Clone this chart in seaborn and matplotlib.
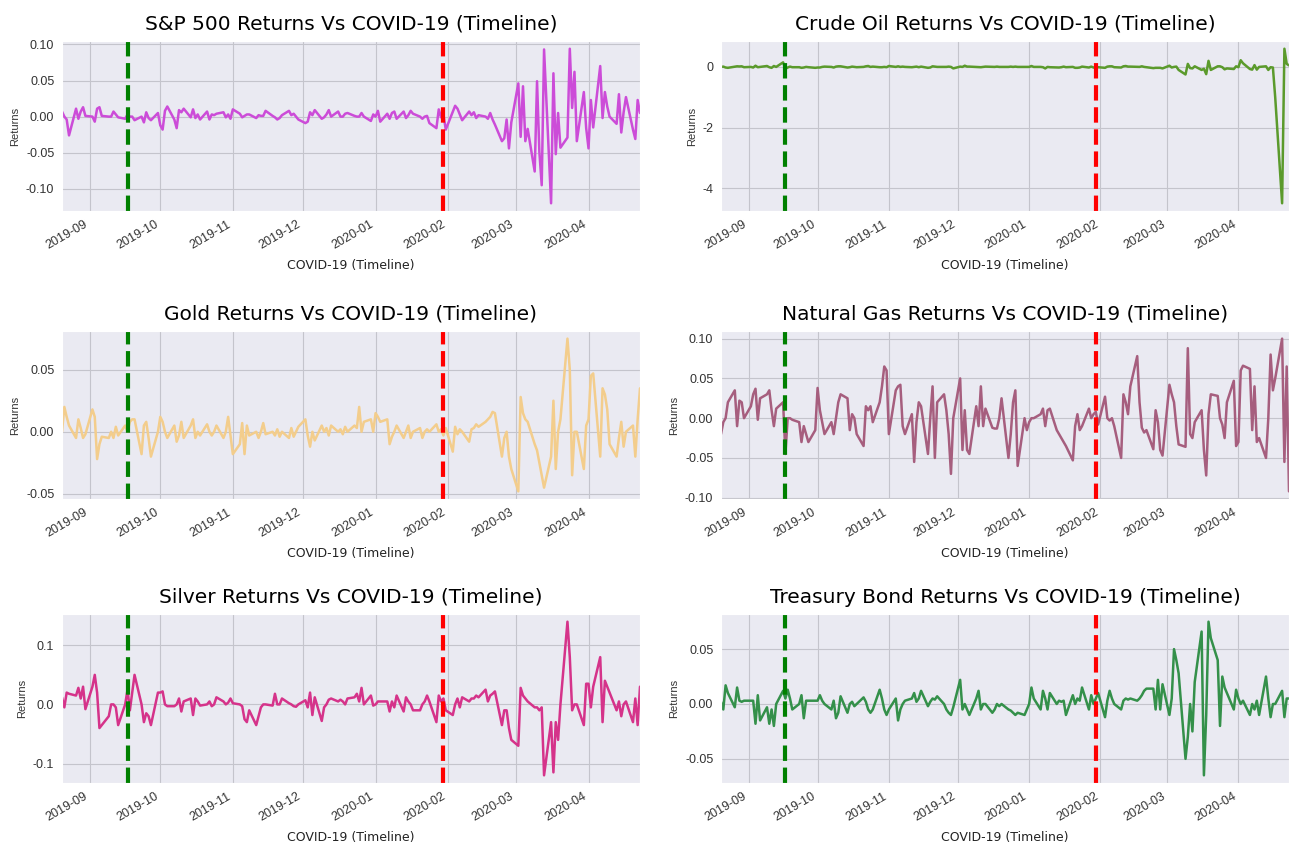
"""
Asset returns vs COVID-19 timeline: six small line charts in a 3x2 grid.
"""

import matplotlib
matplotlib.use("Agg")
import matplotlib.pyplot as plt
import matplotlib.dates as mdates
from matplotlib.ticker import MultipleLocator, FormatStrFormatter
import pandas as pd
import seaborn as sns

# trading days shown on the x axis
START_DATE = "2019-08-20"
END_DATE = "2020-04-23"
# event markers (green / red dashed lines)
EVENT_GREEN = "2019-09-17"
EVENT_RED = "2020-01-30"

# daily returns, one row per month (Aug-19 ... Apr-20)
sp500 = (
    [0.007, 0.0, -0.004, -0.026, 0.011, -0.003, 0.007, 0.013, 0.001]
    + [0.0, -0.007, 0.011, 0.013, 0.001, 0.0, 0.0, 0.007, 0.003, -0.001, -0.003, 0.003, 0.0, 0.0, -0.005, 0.0, -0.008, 0.006, -0.002, -0.005, 0.005]
    + [-0.012, -0.018, 0.008, 0.014, -0.004, -0.016, 0.009, 0.006, 0.011, -0.001, 0.010, -0.002, 0.003, -0.004, 0.007, -0.004, 0.003, 0.002, 0.004, 0.006, -0.001, 0.003, -0.003]
    + [0.010, 0.004, -0.001, 0.001, 0.003, 0.003, -0.002, 0.002, 0.001, 0.001, 0.008, 0.001, -0.001, -0.004, -0.002, 0.002, 0.008, 0.002, 0.004, 0.0, -0.004]
    + [-0.009, -0.007, 0.006, 0.002, 0.009, -0.003, -0.001, 0.003, 0.009, 0.0, 0.007, 0.0, 0.0, 0.004, 0.005, 0.001, 0.0, 0.0, 0.005, 0.0, -0.006, 0.003]
    + [0.0, 0.008, -0.007, 0.004, -0.003, 0.005, 0.007, -0.003, 0.007, -0.002, 0.002, 0.008, 0.004, 0.0, -0.003, 0.0, 0.001, -0.009, -0.016, 0.010, -0.001, 0.003, -0.018]
    + [0.007, 0.015, 0.011, 0.003, -0.005, 0.007, 0.002, 0.006, -0.002, 0.002, 0.0, -0.003, 0.005, -0.004, -0.011, -0.034, -0.030, -0.004, -0.044, -0.008]
    + [0.046, -0.028, 0.042, -0.034, -0.017, -0.076, 0.049, -0.049, -0.095, 0.093, -0.120, 0.060, -0.052, 0.005, -0.043, -0.029, 0.094, 0.012, 0.062, -0.034, 0.034, -0.016]
    + [-0.044, 0.023, -0.015, 0.070, -0.002, 0.034, 0.014, 0.0, -0.010, 0.031, -0.022, 0.006, 0.027, -0.018, -0.031, 0.023, 0.005]
)

crude_oil = (
    [0.0, 0.01, -0.02, -0.03, 0.01, 0.02, 0.015, 0.02, -0.01]
    + [0.0, -0.02, 0.04, -0.01, 0.0, 0.03, -0.01, -0.03, 0.03, 0.0, 0.15, -0.06, -0.02, 0.01, -0.01, -0.01, -0.03, -0.02, 0.0, -0.01, -0.03]
    + [-0.02, -0.02, 0.0, 0.01, 0.0, -0.02, 0.01, 0.02, 0.02, -0.02, -0.01, 0.01, 0.0, -0.01, 0.0, 0.02, 0.03, 0.0, 0.01, -0.01, -0.01, 0.0, -0.01]
    + [0.03, 0.0, 0.02, 0.0, 0.01, 0.0, -0.01, 0.0, 0.01, -0.01, 0.01, -0.03, -0.02, 0.02, 0.01, 0.0, 0.0, 0.0, 0.01, 0.0, -0.05]
    + [0.01, 0.0, 0.04, 0.01, 0.01, 0.0, 0.0, -0.01, 0.0, 0.01, 0.0, 0.0, 0.01, 0.0, 0.0, 0.0, 0.01, 0.0, 0.01, 0.0, 0.0, 0.0]
    + [0.0, 0.03, 0.0, 0.0, -0.01, -0.05, 0.0, -0.01, -0.02, -0.02, -0.01, 0.01, -0.01, 0.0, -0.03, -0.03, -0.02, 0.01, -0.02, 0.01, -0.02, -0.03, -0.01]
    + [-0.03, 0.01, 0.02, 0.02, -0.01, -0.02, 0.02, 0.03, 0.01, 0.01, 0.0, 0.0, 0.02, 0.0, -0.01, -0.04, -0.03, -0.03, -0.03, -0.05]
    + [0.04, -0.02, 0.0, 0.01, -0.1, -0.25, 0.1, -0.04, -0.05, 0.02, -0.1, -0.06, -0.24, 0.2, -0.1, 0.02, 0.02, -0.01, -0.08, -0.05, -0.07, 0.02]
    + [-0.01, 0.22, 0.12, -0.07, -0.09, 0.06, -0.09, 0.0, 0.02, -0.1, -0.01, -0.02, -1.0, -4.5, 0.6, 0.1, 0.05]
)

gold = (
    [0.0, 0.02, 0.012, 0.005, -0.005, 0.01, 0.003, -0.005, -0.002]
    + [0.018, 0.012, -0.022, -0.01, -0.004, -0.005, 0.0, -0.005, 0.004, -0.003, 0.005, 0.0, 0.008, 0.01, 0.01, -0.018, 0.005, 0.008, -0.005, -0.02, 0.0]
    + [0.012, 0.008, 0.0, -0.005, 0.005, -0.008, -0.003, 0.008, -0.005, 0.005, 0.01, -0.005, 0.0, -0.003, 0.006, 0.0, -0.003, 0.0, 0.005, -0.005, 0.0, 0.012, -0.003]
    + [-0.018, -0.01, 0.007, -0.018, 0.005, -0.003, 0.0, -0.005, 0.0, 0.007, -0.002, 0.0, -0.003, 0.002, -0.004, 0.0, -0.005, 0.003, -0.004, 0.0, 0.004]
    + [0.01, -0.003, -0.012, 0.0, -0.007, 0.005, 0.0, 0.003, -0.003, 0.005, 0.0, 0.002, -0.002, 0.004, 0.0, 0.005, 0.003, 0.02, 0.0, 0.008, 0.01, 0.0]
    + [0.015, 0.012, 0.008, 0.01, -0.01, -0.004, 0.0, 0.005, -0.005, 0.0, 0.005, -0.005, 0.0, 0.003, -0.005, 0.0, 0.002, 0.0, 0.006, 0.0, 0.002, -0.003, 0.003]
    + [-0.016, 0.004, -0.002, 0.002, 0.0, -0.008, 0.002, 0.003, 0.006, 0.004, 0.008, 0.01, 0.012, 0.016, 0.015, -0.02, -0.005, 0.0, -0.02, -0.03]
    + [-0.048, 0.028, 0.015, 0.01, 0.008, -0.01, -0.015, -0.025, -0.035, -0.045, -0.02, 0.025, -0.03, 0.0, 0.01, 0.075, 0.05, -0.035, 0.0, 0.0, -0.03, 0.005]
    + [0.01, 0.045, 0.047, -0.02, 0.035, 0.03, 0.018, -0.01, -0.02, -0.005, 0.008, -0.012, 0.0, 0.005, -0.02, 0.01, 0.035]
)

natural_gas = (
    [-0.02, -0.005, 0.0, 0.02, 0.035, -0.01, 0.022, 0.02, 0.0]
    + [0.015, 0.03, 0.037, -0.002, 0.025, 0.03, 0.035, 0.01, -0.01, 0.012, 0.02, -0.045, 0.0, 0.0, -0.002, -0.005, -0.03, -0.01, -0.02, -0.03, -0.015]
    + [0.038, 0.01, -0.005, -0.02, -0.005, -0.02, 0.0, 0.02, 0.03, 0.025, -0.015, 0.005, 0.0, -0.02, -0.035, 0.015, 0.01, 0.015, -0.005, 0.02, 0.04, 0.065, 0.06]
    + [-0.02, 0.035, 0.04, 0.042, -0.01, -0.02, 0.005, -0.055, -0.005, 0.02, 0.015, -0.045, 0.0, 0.04, -0.05, 0.02, 0.03, 0.01, -0.02, -0.07, 0.0]
    + [0.05, -0.04, 0.01, -0.04, -0.045, 0.015, -0.01, 0.04, -0.01, 0.012, -0.012, -0.013, -0.013, 0.0, 0.025, -0.05, -0.02, 0.02, 0.035, -0.06, 0.0, -0.015]
    + [-0.005, 0.0, 0.0, 0.005, 0.012, -0.01, 0.01, 0.012, -0.015, -0.02, -0.025, -0.03, -0.035, -0.053, -0.01, 0.005, -0.015, -0.01, 0.012, 0.0, 0.005, 0.008, -0.008]
    + [0.027, 0.0, -0.003, 0.0, -0.01, -0.05, 0.03, 0.02, 0.005, 0.04, 0.078, 0.02, -0.012, -0.018, -0.015, -0.039, 0.01, -0.005, -0.04, -0.047]
    + [0.042, 0.03, 0.02, -0.01, -0.033, -0.036, 0.088, -0.02, -0.025, -0.005, 0.01, -0.04, -0.072, 0.005, 0.03, 0.028, 0.0, -0.008, -0.025, 0.02, 0.047, -0.035]
    + [-0.03, 0.06, 0.066, 0.062, -0.015, 0.04, -0.03, -0.025, -0.05, 0.0, 0.08, 0.035, 0.05, 0.10, -0.055, 0.065, -0.092]
)

silver = (
    [0.012, -0.005, 0.02, 0.018, 0.015, 0.028, 0.01, 0.03, -0.008]
    + [0.03, 0.05, 0.02, -0.04, -0.035, -0.02, 0.0, 0.0, -0.005, -0.035, 0.0, 0.025, -0.01, 0.02, 0.05, 0.0, -0.03, -0.015, -0.02, -0.035, 0.02]
    + [0.02, 0.022, 0.0, -0.003, -0.003, 0.0, 0.01, -0.012, 0.005, 0.01, -0.018, 0.01, 0.005, -0.002, 0.0, 0.005, -0.003, 0.0, 0.012, 0.005, 0.0, 0.003, 0.01]
    + [0.002, 0.0, -0.003, -0.025, -0.03, -0.01, -0.035, -0.02, -0.005, 0.0, 0.0, -0.002, 0.018, 0.0, 0.0, 0.01, 0.002, 0.0, -0.003, -0.004, 0.0]
    + [0.007, -0.005, 0.02, -0.018, 0.012, -0.028, -0.005, 0.0, 0.008, 0.01, 0.005, 0.008, 0.005, 0.0, 0.01, 0.012, 0.018, 0.005, 0.028, 0.0, 0.015, -0.002]
    + [0.0, 0.005, 0.005, 0.005, -0.012, 0.005, -0.005, 0.015, -0.012, 0.012, 0.005, 0.0, -0.01, -0.01, 0.0, 0.005, 0.015, 0.005, -0.03, 0.015, 0.005, 0.01, -0.01]
    + [-0.018, 0.0, 0.01, -0.005, 0.012, 0.005, 0.01, 0.01, 0.015, 0.012, 0.025, 0.005, 0.015, 0.018, 0.022, -0.035, -0.01, -0.01, -0.04, -0.06]
    + [-0.07, 0.028, 0.015, 0.01, 0.005, -0.005, -0.005, -0.01, -0.005, -0.12, -0.03, -0.115, -0.03, -0.06, 0.0, 0.14, 0.08, -0.01, 0.0, 0.0, -0.035, 0.035]
    + [0.035, -0.005, 0.03, 0.08, -0.03, 0.04, 0.03, 0.02, -0.01, 0.005, -0.02, 0.0, 0.005, -0.03, 0.01, -0.035, 0.03]
)

treasury_bond = (
    [0.002, -0.005, 0.017, 0.01, -0.003, 0.015, 0.003, 0.002, 0.003]
    + [0.003, 0.003, -0.018, 0.008, -0.015, -0.003, -0.018, -0.005, -0.02, 0.0, 0.012, 0.005, 0.013, 0.005, -0.005, 0.0, 0.008, -0.013, 0.003, 0.003, 0.003]
    + [0.003, 0.008, 0.003, 0.0, -0.005, 0.003, -0.013, -0.008, 0.007, -0.008, 0.0, 0.002, -0.002, 0.0, 0.006, 0.002, -0.005, -0.008, -0.005, 0.013, 0.005, -0.005, -0.01]
    + [-0.005, 0.005, -0.015, -0.005, 0.0, 0.003, 0.005, 0.01, 0.002, 0.005, 0.012, -0.002, 0.002, 0.005, 0.004, 0.007, 0.0, -0.005, -0.008, -0.01, -0.003]
    + [0.022, -0.005, 0.0, -0.005, -0.01, 0.005, 0.012, -0.005, 0.0, 0.0, -0.008, -0.005, 0.0, -0.002, 0.0, -0.005, -0.006, -0.008, -0.01, -0.008, -0.01, -0.005]
    + [0.0, 0.015, 0.005, -0.005, 0.012, 0.005, -0.005, 0.01, 0.0, 0.003, 0.002, 0.003, -0.01, 0.008, 0.0, 0.005, 0.003, 0.015, -0.005, 0.008, 0.0, 0.005, 0.01]
    + [-0.012, 0.003, 0.012, 0.005, 0.0, -0.005, 0.003, 0.005, 0.004, 0.005, 0.003, 0.005, 0.008, 0.012, 0.014, 0.014, -0.005, 0.022, -0.005, 0.018]
    + [-0.01, 0.005, 0.05, 0.04, 0.028, -0.05, -0.03, 0.0, -0.025, 0.02, 0.066, -0.065, -0.01, 0.075, 0.06, 0.04, -0.02, 0.025, 0.015, 0.01, -0.005, 0.013]
    + [0.005, 0.0, 0.003, -0.01, 0.0, -0.005, 0.003, -0.01, 0.025, 0.005, -0.012, 0.0, 0.0, 0.012, -0.012, 0.005, 0.005]
)

titles = [
    "S&P 500 Returns Vs COVID-19 (Timeline)",
    "Crude Oil Returns Vs COVID-19 (Timeline)",
    "Gold Returns Vs COVID-19 (Timeline)",
    "Natural Gas Returns Vs COVID-19 (Timeline)",
    "Silver Returns Vs COVID-19 (Timeline)",
    "Treasury Bond Returns Vs COVID-19 (Timeline)",
]
series = [sp500, crude_oil, gold, natural_gas, silver, treasury_bond]
colors = ["#cc4cd8", "#5b9a2c", "#f3cd8c", "#a65e7e", "#d5338a", "#34904a"]
y_steps = [0.05, 2, 0.05, 0.05, 0.1, 0.05]
y_formats = ["%.2f", "%d", "%.2f", "%.2f", "%.1f", "%.2f"]

# axes boxes in figure pixels: (left, top, width, height)
FIG_W, FIG_H = 1289, 851
boxes = [
    (62, 41, 578, 170), (721, 41, 568, 170),
    (62, 331, 578, 168), (721, 331, 568, 168),
    (62, 614, 578, 169), (721, 614, 568, 169),
]


def main():
    sns.set_style("darkgrid", {"axes.facecolor": "#eaeaf2", "grid.color": "#c4c4cc"})
    plt.rcParams["axes.unicode_minus"] = False

    dates = pd.bdate_range(START_DATE, END_DATE)
    fig = plt.figure(figsize=(FIG_W / 100, FIG_H / 100), dpi=100)

    for i, (title, values) in enumerate(zip(titles, series)):
        left, top, w, h = boxes[i]
        ax = fig.add_axes([left / FIG_W, 1 - (top + h) / FIG_H, w / FIG_W, h / FIG_H])
        df = pd.DataFrame({"Date": dates, "Returns": values})
        sns.lineplot(data=df, x="Date", y="Returns", ax=ax, color=colors[i], linewidth=1.8)

        ax.axvline(pd.Timestamp(EVENT_GREEN), color="green", linestyle="--", linewidth=3)
        ax.axvline(pd.Timestamp(EVENT_RED), color="red", linestyle="--", linewidth=3)

        ax.set_xlim(dates[0], dates[-1])
        ax.xaxis.set_major_locator(mdates.MonthLocator())
        ax.xaxis.set_major_formatter(mdates.DateFormatter("%Y-%m"))
        ax.yaxis.set_major_locator(MultipleLocator(y_steps[i]))
        ax.yaxis.set_major_formatter(FormatStrFormatter(y_formats[i]))

        for lbl in ax.get_xticklabels():
            lbl.set_rotation(30)
            lbl.set_ha("right")
        ax.tick_params(axis="both", labelsize=9, colors="#333333", pad=2)
        for lbl in ax.get_xticklabels() + ax.get_yticklabels():
            lbl.set_fontfamily("Liberation Sans")

        ax.set_title(title, fontsize=14.5, color="black", pad=8)
        ax.set_xlabel("COVID-19 (Timeline)", fontsize=9, color="#222222", labelpad=5)
        ax.set_ylabel("Returns", fontsize=8, color="#333333", family="Liberation Sans", labelpad=4)

    fig.savefig("out.png", dpi=100)
    plt.close(fig)


if __name__ == "__main__":
    main()
